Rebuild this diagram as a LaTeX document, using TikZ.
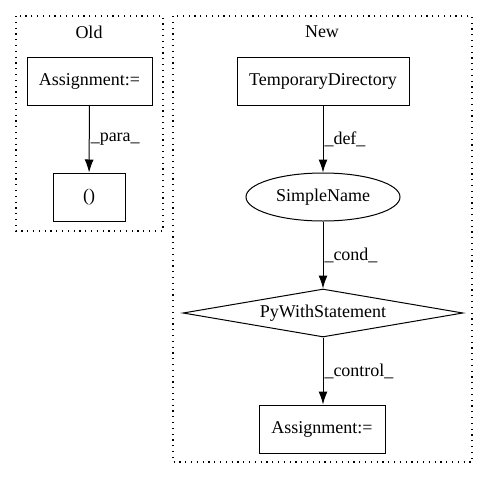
\documentclass[tikz,border=0pt]{standalone}
\usepackage{fontspec}
\setmainfont{Liberation Serif}
\usetikzlibrary{arrows.meta,shapes.geometric}

\tikzset{
    box/.style={draw, rectangle, minimum height=48pt, inner sep=0pt,
        line width=1pt, font=\fontsize{18}{20}\selectfont},
    oval/.style={draw, ellipse, minimum width=154pt, minimum height=48pt,
        inner sep=0pt, line width=1pt, font=\fontsize{18}{20}\selectfont},
    cond/.style={draw, diamond, aspect=5.83, minimum width=280pt,
        minimum height=48pt, inner sep=0pt, line width=1pt,
        font=\fontsize{18}{20}\selectfont},
    cluster/.style={draw, line width=1.2pt, dash pattern=on 1.2pt off 4.6pt},
    title/.style={font=\fontsize{18}{20}\selectfont},
    edge/.style={-{Latex[length=13pt, width=9pt]}, line width=1pt},
    lbl/.style={anchor=west, inner sep=1pt, font=\fontsize{18}{20}\selectfont}
}

\begin{document}
\begin{tikzpicture}[x=1pt, y=-1pt]
            \useasboundingbox (0,0) rectangle (488,480);

            % clusters
            \draw[cluster] (16,16) rectangle (163,231);
            \draw[cluster] (173,16) rectangle (472,462);
            \node[title] (old) at (89,32) {Old};
            \node[title] (new) at (322,32) {New};

            % Old
            \node[box, minimum width=125pt] (oldassign) at (89.5,81) {Assignment:=};
            \node[box, minimum width=72pt] (tuple) at (89,197) {()};

            % New
            \node[box, minimum width=172pt] (tmpdir) at (323,81) {TemporaryDirectory};
            \node[oval] (simplename) at (323,197) {SimpleName};
            \node[cond] (pywith) at (323,313) {PyWithStatement};
            \node[box, minimum width=126pt] (newassign) at (322,429) {Assignment:=};

            \draw[edge] (oldassign) -- (tuple) node[lbl, midway] {\_para\_};
            \draw[edge] (tmpdir) -- (simplename) node[lbl, midway] {\_def\_};
            \draw[edge] (simplename) -- (pywith) node[lbl, midway] {\_cond\_};
            \draw[edge] (pywith.south) -- (pywith.south |- newassign.north)
                node[lbl, midway] {\_control\_};

        \end{tikzpicture}
\end{document}
